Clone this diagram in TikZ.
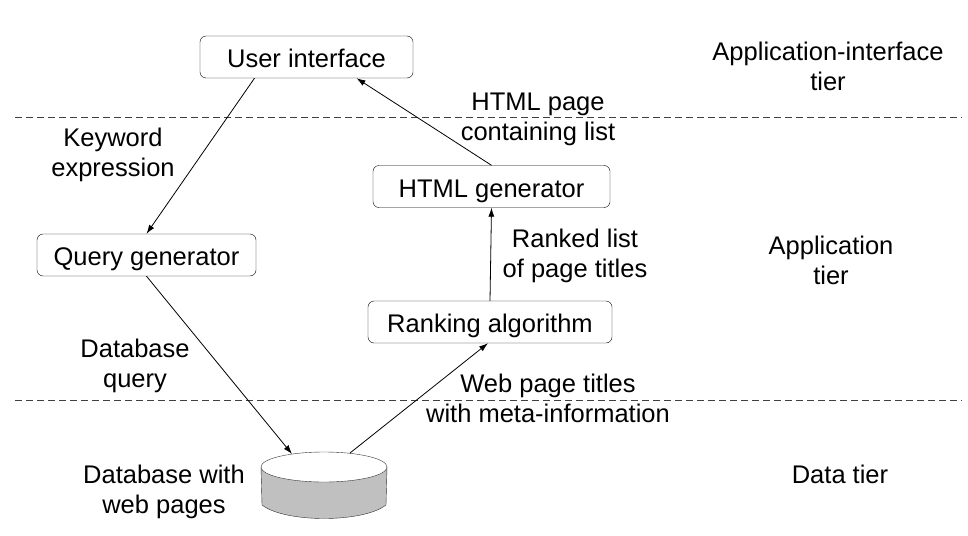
\documentclass[tikz,border=0pt]{standalone}
\usepackage{fontspec}
\setmainfont{Liberation Sans}
\usetikzlibrary{arrows.meta}
\definecolor{dbgray}{RGB}{192,192,192}
\begin{document}
\begin{tikzpicture}[x=1pt,y=-1pt,
    font=\fontsize{25.5}{30}\selectfont,
    box/.style={draw, rounded corners=6pt, minimum height=42pt, inner sep=0pt, text height=23pt, text depth=2pt},
    lbl/.style={align=center, inner sep=0pt},
    arr/.style={-{Latex[length=9pt,width=6pt]}, line width=0.8pt},
    tierline/.style={black!75, line width=0.8pt, dash pattern=on 7pt off 4pt}]
    \useasboundingbox (0,0) rectangle (968,535);

    \draw[tierline] (15,117) -- (962,117); % interface / application
    \draw[tierline] (15,400) -- (962,400); % application / data

    \node[box, minimum width=213pt] (ui)    at (306.5,57)  {User interface};
    \node[box, minimum width=237pt] (html)  at (491.5,186.5) {HTML generator};
    \node[box, minimum width=219pt] (query) at (146.5,255) {Query generator};
    \node[box, minimum width=244pt] (rank)  at (490,322)   {Ranking algorithm};

    % database
    \filldraw[fill=dbgray, draw=black!80] (261,467) -- (262,505) .. controls (285,523) and (363,523) .. (386,505) -- (387,467) -- cycle;
    \filldraw[fill=white, draw=black!80] (324,467) ellipse [x radius=63, y radius=15];
    \coordinate (dbin)  at (292,454);
    \coordinate (dbout) at (350,453);

    \draw[arr] ([xshift=-52pt]ui.south) -- (query.north);
    \draw[arr] (query.south) -- (dbin);
    \draw[arr] (dbout) -- ([xshift=-2pt]rank.south);
    \draw[arr] (rank.north) -- (html.south);
    \draw[arr] (html.north) -- ([xshift=50pt]ui.south);

    \node[lbl] (kw)    at (113,155) {Keyword\\expression};
    \node[lbl] (hp)    at (538,119) {HTML page\\containing list};
    \node[lbl] (rl)    at (575,256) {Ranked list\\of page titles};
    \node[lbl] (dq)    at (135,366) {Database\\query};
    \node[lbl] (wt)    at (548,398) {Web page titles\\with meta-information};
    \node[lbl] (dbw)   at (164,492) {Database with\\web pages};

    \node[lbl] (tier1) at (828,66)  {Application-interface\\tier};
    \node[lbl] (tier2) at (831,260) {Application\\tier};
    \node[lbl] (tier3) at (840,474) {Data tier};
\end{tikzpicture}
\end{document}
